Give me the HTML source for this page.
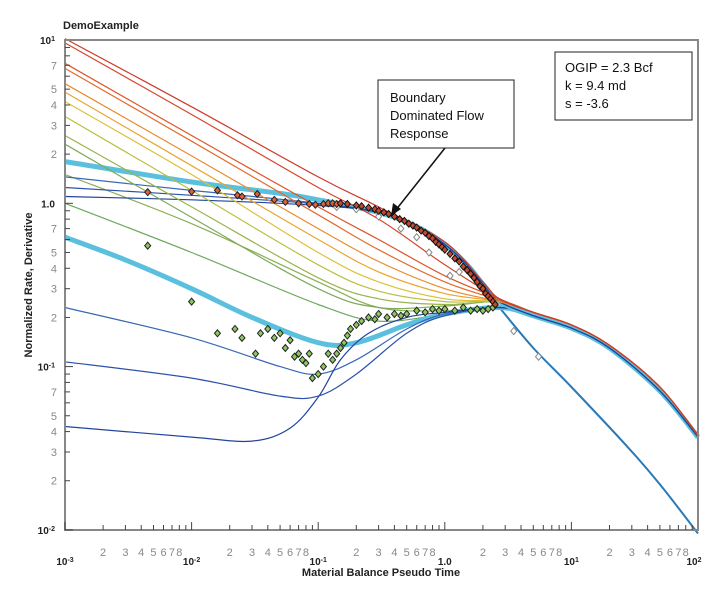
<!DOCTYPE html>
<html><head><meta charset="utf-8">
<style>
body{margin:0;background:#fff;}
svg{display:block;font-family:"Liberation Sans",Arial,sans-serif;}
</style></head>
<body>
<svg id="chart" width="716" height="597" viewBox="0 0 716 597" xmlns="http://www.w3.org/2000/svg">
<text x="63" y="29" font-size="11" font-weight="bold" fill="#222">DemoExample</text>
<g id="curves"></g>
<g id="points"></g>
<rect x="65" y="40" width="633" height="490" fill="none" stroke="#888" stroke-width="2"/>
<g id="axes"></g>
<text transform="translate(32,285) rotate(-90)" text-anchor="middle" font-size="11" font-weight="bold" fill="#222">Normalized Rate, Derivative</text>
<text x="381" y="576" text-anchor="middle" font-size="11" font-weight="bold" fill="#222">Material Balance Pseudo Time</text>
<g>
<rect x="378" y="80" width="136" height="68" fill="#fff" stroke="#222" stroke-width="1"/>
<text x="390" y="102" font-size="13" fill="#111">Boundary</text>
<text x="390" y="120" font-size="13" fill="#111">Dominated Flow</text>
<text x="390" y="138" font-size="13" fill="#111">Response</text>
<line x1="445" y1="148" x2="395" y2="211" stroke="#111" stroke-width="1.5"/>
<polygon points="391,216 393,203 401,209" fill="#111"/>
</g>
<g>
<rect x="555" y="52" width="137" height="68" fill="#fff" stroke="#222" stroke-width="1"/>
<text x="565" y="72" font-size="13" fill="#111">OGIP = 2.3 Bcf</text>
<text x="565" y="90" font-size="13" fill="#111">k = 9.4 md</text>
<text x="565" y="108" font-size="13" fill="#111">s = -3.6</text>
</g>
</svg>
<script>
// ---- data ----
const stemRate = [[2.7,0.25],[5,0.215],[10,0.18],[20,0.135],[50,0.075],[100,0.038]];
const stemDeriv = [[2.7,0.235],[5,0.205],[10,0.172],[20,0.13],[50,0.071],[100,0.037]];
const arc = [[0.3,0.88],[0.6,0.72],[1,0.56],[1.5,0.42],[2,0.32],[2.7,0.25]];
const rateColors = ["#cc3a28","#d6452a","#dd5528","#e36a2a","#e98a2c","#e9a530","#dcc03a","#b8c040","#98b44a","#7eaa5c"];
const rateCurves = [
 [[0.001,10.2],[0.01,3.9],[0.1,1.45],[0.3,0.95],[1,0.58],[2,0.33],[2.7,0.26]],
 [[0.001,9.6],[0.01,3.5],[0.1,1.25],[0.3,0.8],[1,0.42],[2.7,0.26]],
 [[0.001,7.2],[0.01,2.6],[0.1,0.95],[0.3,0.6],[1,0.36],[2.7,0.26]],
 [[0.001,6.7],[0.01,2.4],[0.1,0.85],[0.3,0.52],[1,0.33],[2.7,0.255]],
 [[0.001,5.4],[0.01,1.95],[0.1,0.7],[0.3,0.44],[1,0.3],[2.7,0.25]],
 [[0.001,4.8],[0.01,1.7],[0.1,0.6],[0.3,0.38],[1,0.28],[2.7,0.25]],
 [[0.001,4.2],[0.01,1.5],[0.1,0.5],[0.3,0.33],[1,0.26],[2.7,0.25]],
 [[0.001,3.4],[0.01,1.2],[0.1,0.42],[0.3,0.29],[1,0.25],[2.7,0.25]],
 [[0.001,2.6],[0.01,0.95],[0.1,0.35],[0.3,0.26],[1,0.24],[2.7,0.25]],
 [[0.001,2.3],[0.01,0.82],[0.1,0.3],[0.3,0.23],[1,0.235],[2.7,0.25]]
];
const blueRate = [
 [[0.001,1.8],[0.01,1.35],[0.05,1.15],[0.1,1.05]],
 [[0.001,1.45],[0.01,1.2],[0.1,1.0]],
 [[0.001,1.25],[0.01,1.12],[0.1,0.99]],
 [[0.001,1.1],[0.01,1.05],[0.1,0.97]]
];
const derivCurves = [
 [[0.001,1.5],[0.01,0.75],[0.1,0.33],[0.3,0.23],[1,0.22],[2.7,0.235]],
 [[0.001,1.0],[0.01,0.5],[0.1,0.24],[0.3,0.19],[1,0.21],[2.7,0.235]],
 [[0.001,0.62],[0.003,0.45],[0.01,0.3],[0.03,0.2],[0.1,0.14],[0.2,0.14],[0.5,0.18],[1,0.21],[2.7,0.23]],
 [[0.001,0.23],[0.01,0.15],[0.05,0.1],[0.1,0.09],[0.2,0.11],[0.5,0.17],[1,0.21],[2.7,0.23]],
 [[0.001,0.107],[0.01,0.085],[0.05,0.066],[0.1,0.066],[0.2,0.09],[0.5,0.16],[1,0.205],[2.7,0.23]],
 [[0.001,0.043],[0.01,0.037],[0.03,0.035],[0.06,0.042],[0.1,0.065],[0.15,0.11],[0.25,0.16],[0.5,0.2],[1,0.215],[2.7,0.23]]
];
const derivColors = ["#8aae55","#6ea860","#5bc0de","#3a68b6","#2a52a8","#22449c"];
const expStem = [[2.7,0.23],[5,0.13],[10,0.075],[28,0.032],[50,0.019],[100,0.0095]];
const redT = [0.0045,0.01,0.016,0.023,0.025,0.033,0.045,0.055,0.07,0.085,0.095,0.11,0.12,0.13,0.14];
const redQ = [1.17,1.18,1.2,1.12,1.1,1.14,1.05,1.02,1.0,0.99,0.98,0.99,1.0,1.0,0.99];
const arcT = [0.15,0.17,0.2,0.22,0.25,0.28,0.3,0.33,0.36,0.4,0.44,0.48,0.52,0.56,0.6,0.65,0.7,0.75,0.8,0.85,0.9,0.95,1.0,1.1,1.2,1.3,1.4,1.5,1.6,1.7,1.8,1.9,2.0,2.1,2.2,2.3,2.4,2.5];
const arcQ = [1.0,0.99,0.97,0.96,0.94,0.92,0.9,0.88,0.86,0.83,0.8,0.78,0.75,0.73,0.71,0.68,0.66,0.63,0.61,0.58,0.56,0.54,0.52,0.49,0.46,0.44,0.41,0.39,0.37,0.35,0.33,0.31,0.3,0.28,0.27,0.26,0.25,0.24];
const grnT = [0.0045,0.01,0.016,0.022,0.025,0.032,0.035,0.04,0.045,0.05,0.055,0.06,0.065,0.07,0.075,0.08,0.085,0.09,0.1,0.11,0.12,0.13,0.14,0.15,0.16,0.17,0.18,0.2,0.22,0.25,0.28,0.3,0.35,0.4,0.45,0.5,0.6,0.7,0.8,0.9,1.0,1.2,1.4,1.6,1.8,2.0,2.2,2.4];
const grnQ = [0.55,0.25,0.16,0.17,0.15,0.12,0.16,0.17,0.15,0.16,0.13,0.145,0.115,0.12,0.11,0.105,0.12,0.085,0.09,0.1,0.12,0.11,0.12,0.13,0.14,0.155,0.17,0.18,0.19,0.2,0.195,0.21,0.2,0.21,0.205,0.21,0.22,0.215,0.225,0.22,0.225,0.22,0.23,0.22,0.225,0.22,0.225,0.23];
const grayT = [0.14,0.2,0.3,0.45,0.6,0.75,1.1,1.3,3.5,5.5];
const grayQ = [0.95,0.92,0.83,0.7,0.62,0.5,0.36,0.38,0.165,0.115];
const xDecades = [-3,-2,-1,0,1,2];
const xDecadeLabels = ["10<tspan baseline-shift='super' font-size='7'>-3</tspan>","10<tspan baseline-shift='super' font-size='7'>-2</tspan>","10<tspan baseline-shift='super' font-size='7'>-1</tspan>","1.0","10<tspan baseline-shift='super' font-size='7'>1</tspan>","10<tspan baseline-shift='super' font-size='7'>2</tspan>"];
const yDecades = [1,0,-1,-2];
const yDecadeLabels = ["10<tspan baseline-shift='super' font-size='7'>1</tspan>","1.0","10<tspan baseline-shift='super' font-size='7'>-1</tspan>","10<tspan baseline-shift='super' font-size='7'>-2</tspan>"];
const yMinorLabels = [2,3,4,5,7];

// ---- axes ----
const X0=65, XD=126.6, Y0=40, YD=163.3;
const xs = t => X0 + XD*(Math.log10(t)+3);
const ys = q => Y0 + YD*(1-Math.log10(q));
const NS="http://www.w3.org/2000/svg";
function mk(tag, parent, attrs){const e=document.createElementNS(NS,tag);for(const k in attrs)e.setAttribute(k,attrs[k]);parent.appendChild(e);return e;}
const gC=document.getElementById('curves'), gP=document.getElementById('points'), gA=document.getElementById('axes');
function path(pts){
  const P=pts.map(p=>[xs(p[0]),ys(p[1])]);
  let d='M'+P[0][0].toFixed(1)+','+P[0][1].toFixed(1);
  for(let i=0;i<P.length-1;i++){
    const p0=P[Math.max(0,i-1)],p1=P[i],p2=P[i+1],p3=P[Math.min(P.length-1,i+2)];
    const c1=[p1[0]+(p2[0]-p0[0])/6,p1[1]+(p2[1]-p0[1])/6];
    const c2=[p2[0]-(p3[0]-p1[0])/6,p2[1]-(p3[1]-p1[1])/6];
    d+=' C'+c1[0].toFixed(1)+','+c1[1].toFixed(1)+' '+c2[0].toFixed(1)+','+c2[1].toFixed(1)+' '+p2[0].toFixed(1)+','+p2[1].toFixed(1);
  }
  return d;
}
function drawCurve(pts,color,w,name){
  const p=mk('path',gC,{d:path(pts),fill:'none',stroke:color,'stroke-width':w,'stroke-linejoin':'round'});
  
  
}
drawCurve(expStem,'#2a7ab8',2,'exponential-stem');
derivCurves.forEach((c,i)=>drawCurve(c.concat(stemDeriv.slice(1)),derivColors[i],i==2?5:1.2,'derivative-curve'));
blueRate.forEach((c,i)=>drawCurve(c.concat(arc,stemDeriv.slice(1)),['#5bc0de','#3a68b6','#2a52a8','#22449c'][i],i==0?5:1.2,'rate-curve-blue'));
rateCurves.slice().reverse().forEach((c,j)=>{const i=rateCurves.length-1-j;drawCurve(c.concat(stemRate.slice(1)),rateColors[i],1.2,'rate-curve');});

function diamond(t,q,fill,stroke,name){
  const x=xs(t),y=ys(q);
  const d=mk('polygon',gP,{points:`${x},${y-3.5} ${x+3},${y} ${x},${y+3.5} ${x-3},${y}`,fill:fill,stroke:stroke,'stroke-width':1});
  
  
}
grayT.forEach((t,i)=>diamond(t,grayQ[i],'#fff','#888','hollow-data-point'));
redT.forEach((t,i)=>diamond(t,redQ[i],'#e0603a','#222','rate-data-point'));
grnT.forEach((t,i)=>diamond(t,grnQ[i],'#8cc860','#222','derivative-data-point'));
arcT.forEach((t,i)=>diamond(t,arcQ[i],'#c04a30','#111','bdf-data-point'));

// ticks
for(let d=-3;d<2;d++){for(let m=1;m<10;m++){const x=xs(m*Math.pow(10,d));
  mk('line',gA,{x1:x,y1:530,x2:x,y2:m==1?522:525,stroke:'#444','stroke-width':1});
  if(m>1&&m<9){const t=mk('text',gA,{x:x,y:556,'text-anchor':'middle','font-size':11,fill:'#888'});t.textContent=m;
   }}}
xDecades.forEach((d,i)=>{const t=mk('text',gA,{x:xs(Math.pow(10,d))+(i==5?-4:0),y:565,'text-anchor':'middle','font-size':10,'font-weight':'bold',fill:'#222'});t.innerHTML=xDecadeLabels[i];
  });
for(let d=-2;d<1;d++){for(let m=1;m<10;m++){const y=ys(m*Math.pow(10,d));
  mk('line',gA,{x1:65,y1:y,x2:m==1?73:70,y2:y,stroke:'#444','stroke-width':1});
  if(yMinorLabels.includes(m)){const t=mk('text',gA,{x:57,y:y+4,'text-anchor':'end','font-size':11,fill:'#888'});t.textContent=m;
   }}}
yDecades.forEach((d,i)=>{const t=mk('text',gA,{x:55,y:ys(Math.pow(10,d))+4,'text-anchor':'end','font-size':10,'font-weight':'bold',fill:'#222'});t.innerHTML=yDecadeLabels[i];
  });
</script>
</body></html>
